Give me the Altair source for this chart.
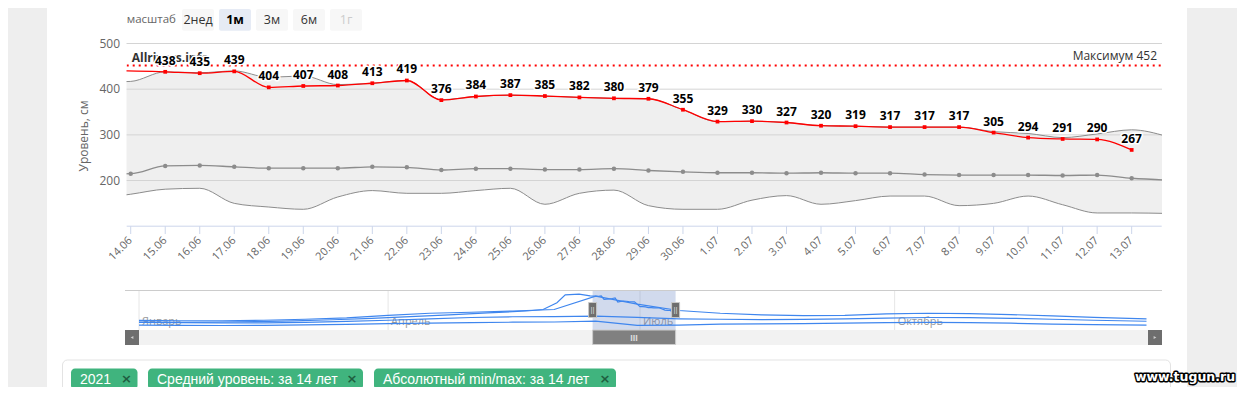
import altair as alt
import pandas as pd

# ---------------- data ----------------
date_labels = ["13.06", "14.06", "15.06", "16.06", "17.06", "18.06", "19.06", "20.06",
               "21.06", "22.06", "23.06", "24.06", "25.06", "26.06", "27.06", "28.06",
               "29.06", "30.06", "1.07", "2.07", "3.07", "4.07", "5.07", "6.07",
               "7.07", "8.07", "9.07", "10.07", "11.07", "12.07", "13.07", "14.07"]
level_2021 = [441, None, 438, 435, 439, 404, 407, 408, 413, 419, 376, 384, 387, 385, 382, 380,
              379, 355, 329, 330, 327, 320, 319, 317, 317, 317, 305, 294, 291, 290, 267, None]
mean_level = [214, 215, 232, 233, 230, 227, 227, 227, 230, 229, 223, 226, 226, 224, 224, 226,
              222, 219, 217, 217, 216, 217, 216, 216, 213, 212, 212, 212, 211, 212, 205, 201]
min_level = [160, 170, 181, 183, 150, 142, 137, 164, 178, 172, 172, 178, 183, 148, 172, 179,
             145, 137, 137, 157, 167, 148, 156, 166, 166, 145, 150, 166, 147, 129, 129, 128]
max_level = [415, 417, 438, 436, 440, 426, 429, 410, 413, 419, 377, 384, 387, 385, 382, 380,
             379, 355, 329, 330, 327, 320, 319, 317, 317, 317, 307, 303, 294, 302, 311, 297]
record_max = 452
y_ticks = [200, 300, 400, 500]

nav_2021_dates = ["01.01", "15.01", "29.01", "12.02", "26.02", "12.03", "26.03", "09.04",
                  "23.04", "07.05", "21.05", "27.05", "01.06", "04.06", "09.06"]
nav_2021_values = [172, 168, 170, 176, 184, 195, 210, 228, 245, 265, 285, 300, 370, 450, 458]
nav_dates = ["01.01", "16.01", "31.01", "15.02", "02.03", "17.03", "01.04", "16.04", "01.05",
             "16.05", "31.05", "15.06", "30.06", "15.07", "30.07", "14.08", "29.08", "13.09",
             "28.09", "13.10", "28.10", "12.11", "27.11", "12.12", "31.12"]
nav_mean = [168, 165, 162, 163, 168, 178, 190, 205, 218, 226, 228, 232, 219, 205, 200, 196,
            198, 205, 212, 218, 216, 210, 200, 190, 180]
nav_min = [140, 138, 136, 138, 142, 148, 155, 160, 165, 170, 172, 181, 137, 140, 150, 152,
           155, 160, 165, 168, 165, 160, 150, 145, 140]
nav_max = [188, 185, 185, 190, 200, 215, 240, 262, 272, 285, 300, 438, 355, 290, 262, 245,
           238, 240, 255, 262, 258, 248, 235, 220, 205]
month_names = ["Январь", "Апрель", "Июль", "Октябрь"]
month_starts = ["01.01", "01.04", "01.07", "01.10"]
series_names = ["2021", "Средний уровень: за 14 лет", "Абсолютный min/max: за 14 лет"]
range_buttons = ["2нед", "1м", "3м", "6м", "1г"]
watermark = "Allrivers.info"


def doy(labels):
    d = pd.to_datetime([f"{s}.2021" for s in labels], format="%d.%m.%Y")
    return [int(v) - 1 for v in d.dayofyear]


main_df = pd.DataFrame({
    "doy": doy(date_labels), "label": date_labels, "y2021": level_2021,
    "mean": mean_level, "min": min_level, "max": max_level,
})

# visible window of the main plot (first / last shown day with margins)
view_start = doy(["14.06"])[0] - 0.116
view_end = doy(["13.07"])[0] + 0.87
sel_df = pd.DataFrame({"start": [view_start], "end": [view_end]})
edge_df = pd.DataFrame({"edge": [view_start, view_end]})

nav_parts = [
    pd.DataFrame({"doy": doy(nav_2021_dates), "value": nav_2021_values, "series": "2021"}),
    main_df[main_df["y2021"].notna()][["doy", "y2021"]].rename(columns={"y2021": "value"}).assign(series="2021"),
    pd.DataFrame({"doy": doy(nav_dates), "value": nav_mean, "series": "mean"}),
    pd.DataFrame({"doy": doy(nav_dates), "value": nav_min, "series": "min"}),
    pd.DataFrame({"doy": doy(nav_dates), "value": nav_max, "series": "max"}),
]
nav_df = pd.concat(nav_parts, ignore_index=True)
month_df = pd.DataFrame({"doy": doy(month_starts), "name": month_names})

# ---------------- scales ----------------
MX = alt.Scale(domain=[view_start, view_end], range=[118.7, 1153.7], nice=False, zero=False)
MY = alt.Scale(domain=[100, 500], range=[218.2, 35.5], nice=False, zero=False)
NX = alt.Scale(domain=[-5.06, 369.6], range=[117, 1154], nice=False, zero=False)
NY = alt.Scale(domain=[90, 490], range=[322, 283], nice=False, zero=False)

FONT = "Open Sans"
one = pd.DataFrame({"k": [0]})


def mx(f="doy"):
    return alt.X(f"{f}:Q", scale=MX, axis=None)


def my(f):
    return alt.Y(f"{f}:Q", scale=MY, axis=None)


def nx(f="doy"):
    return alt.X(f"{f}:Q", scale=NX, axis=None)


def box(x1, x2, y1, y2, **kw):
    return alt.Chart(one).mark_rect(**kw).encode(
        x=alt.value(x1), x2=alt.value(x2), y=alt.value(y1), y2=alt.value(y2))


def txt(t, x, y, **kw):
    return alt.Chart(one).mark_text(**kw).encode(
        x=alt.value(x), y=alt.value(y), text=alt.value(t))


def hrule(x1, x2, y, **kw):
    return alt.Chart(one).mark_rule(**kw).encode(
        x=alt.value(x1), x2=alt.value(x2), y=alt.value(y))


in_view = f"datum.doy >= {view_start} && datum.doy <= {view_end}"
valid = "isValid(datum.y2021)"
layers = []

# page card
layers.append(box(39, 1179, 0, 379, color="white"))

# range selector
layers.append(txt("масштаб", 118.7, 12, align="left", baseline="middle", fontSize=11.5,
                  color="#666666", font=FONT))
for i, name in enumerate(range_buttons):
    x0 = 174 + i * 37
    fill = "#e6ebf5" if i == 1 else "#f7f7f7"
    col = "#000000" if i == 1 else ("#cccccc" if i == 4 else "#333333")
    layers.append(box(x0, x0 + 32, 1, 22.7, color=fill, cornerRadius=2))
    layers.append(txt(name, x0 + 16, 12, align="center", baseline="middle", fontSize=12.5,
                      color=col, font=FONT, fontWeight="bold" if i == 1 else "normal"))

main = alt.Chart(main_df)
ydf = pd.DataFrame({"v": y_ticks})

layers.append(main.mark_area(interpolate="monotone", color="#efefef").encode(
    x=mx(), y=my("max"), y2=alt.Y2("min")))
layers.append(alt.Chart(ydf).mark_rule(color="#d4d4d4", strokeWidth=1).encode(
    y=my("v"), x=alt.value(117), x2=alt.value(1154)))
for f in ["max", "min"]:
    layers.append(main.mark_line(interpolate="monotone", color="#8c8c8c", strokeWidth=1).encode(
        x=mx(), y=my(f)))
layers.append(main.mark_line(interpolate="monotone", color="#8c8c8c", strokeWidth=1.3).encode(
    x=mx(), y=my("mean")))
layers.append(main.transform_filter(in_view).mark_circle(size=20, color="#8c8c8c", opacity=1).encode(
    x=mx(), y=my("mean")))
layers.append(main.transform_filter(valid).mark_line(interpolate="monotone", color="#ff0000",
                                                     strokeWidth=1.3).encode(x=mx(), y=my("y2021")))
layers.append(main.transform_filter(valid).transform_filter(in_view).mark_square(
    size=14, color="#ff0000", opacity=1).encode(x=mx(), y=my("y2021")))

rec_df = pd.DataFrame({"v": [record_max]})
layers.append(alt.Chart(rec_df).mark_rule(color="#ff0000", strokeWidth=2, strokeDash=[2, 4]).encode(
    y=my("v"), x=alt.value(118.7), x2=alt.value(1153.7)))

# cover overflow outside plot area
layers.append(box(39, 118.5, 28, 218, color="white"))
layers.append(box(1154, 1179, 28, 218, color="white"))

layers.append(alt.Chart(rec_df).transform_calculate(t="'Максимум ' + datum.v").mark_text(
    align="right", baseline="middle", dy=-9, fontSize=12, color="#333333", font=FONT).encode(
    y=my("v"), x=alt.value(1149), text="t:N"))

layers.append(txt(watermark, 123.7, 49.5, align="left", baseline="middle", fontSize=12,
                  fontWeight="bold", color="#333333", font=FONT))

lbl = main.transform_filter(valid).transform_filter(in_view)
layers.append(lbl.mark_text(dy=-11, baseline="middle", fontSize=12, fontWeight="bold", font=FONT,
                            color="white", stroke="white", strokeWidth=3, strokeJoin="round").encode(
    x=mx(), y=my("y2021"), text=alt.Text("y2021:Q", format=".0f")))
layers.append(lbl.mark_text(dy=-11, baseline="middle", fontSize=12, fontWeight="bold", font=FONT,
                            color="#000000").encode(
    x=mx(), y=my("y2021"), text=alt.Text("y2021:Q", format=".0f")))

# x axis
layers.append(hrule(118.7, 1153.7, 218.2, color="#ccd6eb"))
ticks = main.transform_filter(in_view)
layers.append(ticks.mark_rule(color="#ccd6eb").encode(x=mx(), y=alt.value(218.2), y2=alt.value(226)))
layers.append(ticks.mark_text(angle=315, align="right", baseline="middle", fontSize=11,
                              color="#666666", font=FONT).encode(
    x=mx(), y=alt.value(231), text="label:N"))

# y axis
layers.append(alt.Chart(ydf).mark_text(align="right", baseline="middle", fontSize=12,
                                       color="#666666", font=FONT).encode(
    x=alt.value(112), y=my("v"), text="v:Q"))
layers.append(txt("Уровень, см", 76, 128, angle=270, align="center", baseline="middle",
                  fontSize=12, color="#666666", font=FONT))

# navigator
layers.append(hrule(117, 1154, 282.5, color="#cccccc"))
months = alt.Chart(month_df)
layers.append(months.mark_rule(color="#e6e6e6").encode(x=nx(), y=alt.value(283), y2=alt.value(322)))
layers.append(months.mark_text(align="left", dx=3, baseline="middle", fontSize=11, color="#999999",
                               font=FONT).encode(x=nx(), y=alt.value(314), text="name:N"))
layers.append(alt.Chart(sel_df).mark_rect(color="#6685c2", opacity=0.3).encode(
    x=nx("start"), x2=alt.X2("end"), y=alt.value(283), y2=alt.value(322)))
layers.append(alt.Chart(nav_df).mark_line(color="#3f86ee", strokeWidth=1.2).encode(
    x=nx(), y=alt.Y("value:Q", scale=NY, axis=None), detail="series:N"))
layers.append(alt.Chart(edge_df).mark_rect(xOffset=-4, x2Offset=4, color="#6e6e6e",
                                           stroke="#c8c8c8", strokeWidth=1).encode(
    x=nx("edge"), x2=alt.X2("edge"), y=alt.value(294.5), y2=alt.value(309.5)))
layers.append(alt.Chart(edge_df).mark_text(text="||", fontSize=8, color="#dddddd",
                                           baseline="middle").encode(
    x=nx("edge"), y=alt.value(302)))
layers.append(box(117, 1154, 322, 337, color="#f2f2f2"))
layers.append(box(117, 131, 322, 337, color="#6e6e6e"))
layers.append(box(1140, 1154, 322, 337, color="#6e6e6e"))
layers.append(alt.Chart(one).mark_point(shape="triangle-left", filled=True, size=10,
                                        color="#cccccc", opacity=1).encode(
    x=alt.value(124), y=alt.value(329.5)))
layers.append(alt.Chart(one).mark_point(shape="triangle-right", filled=True, size=10,
                                        color="#cccccc", opacity=1).encode(
    x=alt.value(1147), y=alt.value(329.5)))
layers.append(alt.Chart(sel_df).mark_rect(color="#808080", stroke="#cccccc", strokeWidth=1).encode(
    x=nx("start"), x2=alt.X2("end"), y=alt.value(322), y2=alt.value(336.5)))
layers.append(alt.Chart(sel_df).transform_calculate(mid="(datum.start + datum.end) / 2").mark_text(
    text="III", fontSize=9, fontWeight="bold", color="#dddddd", baseline="middle").encode(
    x=nx("mid"), y=alt.value(329.5)))

# legend card with tags
layers.append(box(54.5, 1162.5, 352, 400, color="white", stroke="#e3e3e3", strokeWidth=1,
                  cornerRadius=5))
tag_pos = [(63, 129.5), (140, 355), (366, 608)]
for name, (a, b) in zip(series_names, tag_pos):
    layers.append(box(a, b, 360.5, 381.5, color="#40b47e", cornerRadius=4))
    layers.append(txt(name, a + 9, 371.5, align="left", baseline="middle", fontSize=14,
                      color="white", font="Liberation Sans"))
    layers.append(txt("×", b - 11, 371, align="center", baseline="middle", fontSize=13,
                      fontWeight="bold", color="#1f5e40", font="DejaVu Sans"))

# site watermark
layers.append(txt("www.tugun.ru", 1127, 369, align="left", baseline="middle", fontSize=12.5,
                  fontWeight="bold", font="DejaVu Sans", color="black", stroke="black",
                  strokeWidth=3, strokeJoin="round"))
layers.append(txt("www.tugun.ru", 1127, 369, align="left", baseline="middle", fontSize=12.5,
                  fontWeight="bold", font="DejaVu Sans", color="white"))

chart = alt.layer(*layers).resolve_scale(x="independent", y="independent").properties(
    width=1229, height=379, padding=0,
    autosize=alt.AutoSizeParams(type="none"), background="#eeeeee",
).configure_view(strokeWidth=0)

chart.save("out.html", embed_options={"renderer": "svg", "actions": False})
